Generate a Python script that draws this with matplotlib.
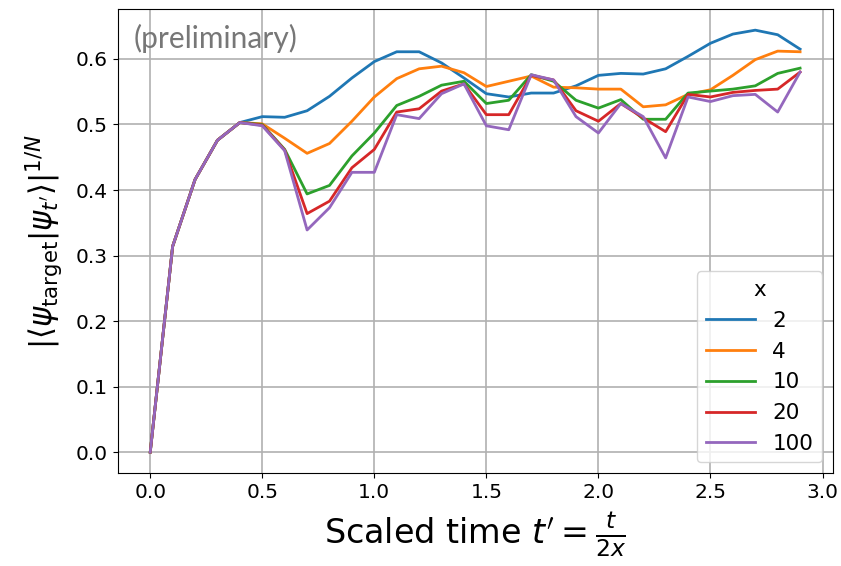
import numpy as np
import matplotlib
matplotlib.use("Agg")
import matplotlib.pyplot as plt

# scaled time grid t' = t / (2x)
t_scaled = [0.0, 0.1, 0.2, 0.3, 0.4, 0.5, 0.6, 0.7, 0.8, 0.9,
            1.0, 1.1, 1.2, 1.3, 1.4, 1.5, 1.6, 1.7, 1.8, 1.9,
            2.0, 2.1, 2.2, 2.3, 2.4, 2.5, 2.6, 2.7, 2.8, 2.9]

# fidelity per site for each x
fid_x2 = [0.0, 0.314, 0.416, 0.476, 0.503, 0.512, 0.511, 0.521, 0.543, 0.571,
          0.596, 0.611, 0.611, 0.594, 0.571, 0.547, 0.542, 0.548, 0.548, 0.559,
          0.575, 0.578, 0.577, 0.585, 0.604, 0.624, 0.638, 0.644, 0.637, 0.615]
fid_x4 = [0.0, 0.314, 0.416, 0.476, 0.503, 0.501, 0.479, 0.456, 0.471, 0.505,
          0.542, 0.570, 0.585, 0.589, 0.579, 0.558, 0.566, 0.574, 0.557, 0.556,
          0.554, 0.554, 0.527, 0.530, 0.546, 0.553, 0.575, 0.599, 0.612, 0.611]
fid_x10 = [0.0, 0.314, 0.416, 0.476, 0.503, 0.500, 0.462, 0.394, 0.407, 0.452,
           0.487, 0.529, 0.543, 0.560, 0.566, 0.532, 0.537, 0.576, 0.566, 0.537,
           0.525, 0.538, 0.508, 0.508, 0.548, 0.551, 0.554, 0.559, 0.578, 0.586]
fid_x20 = [0.0, 0.314, 0.416, 0.476, 0.503, 0.499, 0.461, 0.364, 0.383, 0.434,
           0.462, 0.519, 0.524, 0.551, 0.562, 0.515, 0.515, 0.575, 0.568, 0.521,
           0.505, 0.532, 0.510, 0.489, 0.546, 0.542, 0.549, 0.552, 0.554, 0.580]
fid_x100 = [0.0, 0.314, 0.416, 0.476, 0.503, 0.498, 0.460, 0.339, 0.373, 0.427,
            0.427, 0.515, 0.509, 0.547, 0.562, 0.498, 0.492, 0.576, 0.568, 0.512,
            0.487, 0.532, 0.512, 0.449, 0.542, 0.535, 0.544, 0.546, 0.519, 0.580]

x_values = ["2", "4", "10", "20", "100"]
series = [fid_x2, fid_x4, fid_x10, fid_x20, fid_x100]

fig, ax = plt.subplots(figsize=(8.41, 5.66), dpi=100)
fig.subplots_adjust(left=0.140, right=0.990, top=0.984, bottom=0.164)

for lab, ys in zip(x_values, series):
    ax.plot(t_scaled, ys, lw=2, label=lab)

ax.grid(True, color="#b0b0b0", lw=1.2)
ax.tick_params(labelsize=14.5)
ax.set_xticks(np.arange(0, 3.01, 0.5))
ax.set_xlabel(r"Scaled time $t' = \frac{t}{2x}$", fontsize=24, labelpad=6)
ax.set_ylabel(r"$|\langle\psi_\mathrm{target}|\psi_{t'}\rangle|^{1/N}$", fontsize=22,
              labelpad=8)

ax.text(0.022, 0.968, "(preliminary)", transform=ax.transAxes, fontsize=21.5,
        color="#777777", family="Lato", va="top", ha="left")

ax.legend(title="x", loc="lower right", fontsize=15.5, title_fontsize=15.5,
          handlelength=2.3)

fig.savefig("out.png", dpi=100)
